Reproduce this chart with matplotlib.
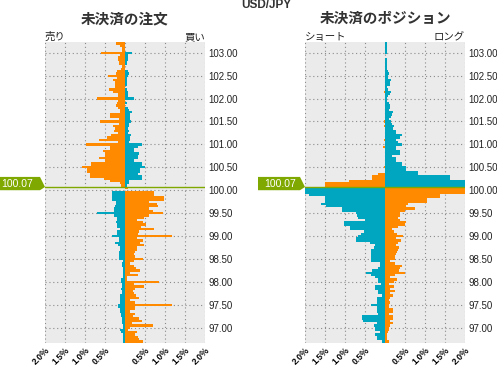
import numpy as np
import matplotlib.pyplot as plt
from matplotlib.patches import Polygon
from matplotlib.transforms import blended_transform_factory

plt.rcParams['font.family'] = ['Liberation Sans', 'Noto Sans CJK JP', 'DejaVu Sans']

ORANGE = "#ff8a00"
BLUE = "#00a6c0"
GREEN = "#7fa800"
BG = "#ebebeb"

symbol = "USD/JPY"
current_price = 100.07
bin_step = 0.05
top_price = 103.20

# open orders, % per price level (left side / right side of the zero line)
order_left = [
    0.22, 0.12, 0.08, 0.08, 0.60, 0.12, 0.17, 0.17, 0.15, 0.14,   # 103.20 - 102.75
    0.08, 0.10, 0.19, 0.22, 0.42, 0.19, 0.30, 0.24, 0.24, 0.25,   # 102.70 - 102.25
    0.40, 0.30, 0.18, 0.18, 0.70, 0.18, 0.21, 0.22, 0.18, 0.12,   # 102.20 - 101.75
    0.12, 0.37, 0.37, 0.14, 0.62, 0.14, 0.29, 0.24, 0.27, 0.18,   # 101.70 - 101.25
    0.35, 0.44, 0.65, 0.17, 0.98, 0.37, 0.37, 0.55, 0.50, 0.50,   # 101.20 - 100.75
    0.65, 0.50, 0.85, 0.85, 1.07, 0.95, 0.95, 0.87, 0.87, 0.52,   # 100.70 - 100.25
    0.37, 0.12, 0.10,                                             # 100.20 - 100.10
    0.00, 0.00, 0.33, 0.33, 0.33, 0.33, 0.22, 0.22, 0.25, 0.27,   # 100.05 - 99.60
    0.27, 0.70, 0.27, 0.21, 0.21, 0.22, 0.19, 0.19, 0.12, 0.20,   # 99.55 - 99.10
    0.20, 0.33, 0.15, 0.15, 0.25, 0.17, 0.12, 0.12, 0.15, 0.15,   # 99.05 - 98.60
    0.15, 0.15, 0.06, 0.08, 0.08, 0.06, 0.04, 0.04, 0.04, 0.04,   # 98.55 - 98.10
    0.10, 0.10, 0.08, 0.08, 0.10, 0.08, 0.08, 0.12, 0.12, 0.12,   # 98.05 - 97.60
    0.12, 0.17, 0.17, 0.12, 0.12, 0.10, 0.10, 0.08, 0.08, 0.08,   # 97.55 - 97.10
    0.06, 0.06, 0.12, 0.10, 0.06, 0.06, 0.06, 0.06, 0.06,         # 97.05 - 96.65
]
order_right = [
    0.00, 0.00, 0.00, 0.00, 0.17, 0.07, 0.07, 0.07, 0.06, 0.06,
    0.00, 0.00, 0.07, 0.10, 0.08, 0.06, 0.05, 0.05, 0.05, 0.00,
    0.05, 0.07, 0.07, 0.07, 0.22, 0.00, 0.04, 0.00, 0.07, 0.10,
    0.17, 0.12, 0.12, 0.12, 0.15, 0.10, 0.10, 0.08, 0.11, 0.08,
    0.15, 0.12, 0.12, 0.11, 0.42, 0.32, 0.22, 0.22, 0.35, 0.32,
    0.32, 0.22, 0.42, 0.42, 0.50, 0.37, 0.37, 0.32, 0.42, 0.42,
    0.10, 0.09, 0.06,
    0.07, 0.00, 0.72, 0.72, 0.97, 0.97, 0.60, 0.80, 0.82, 0.60,
    0.70, 0.95, 0.60, 0.48, 0.30, 0.45, 0.52, 0.40, 0.72, 0.35,
    0.32, 1.17, 0.30, 0.45, 0.38, 0.48, 0.30, 0.30, 0.25, 0.22,
    0.25, 0.45, 0.22, 0.12, 0.22, 0.27, 0.37, 0.12, 0.32, 0.06,
    0.05, 0.85, 0.22, 0.48, 0.25, 0.20, 0.22, 0.27, 0.35, 0.12,
    0.25, 1.17, 0.25, 0.25, 0.12, 0.25, 0.20, 0.35, 0.42, 0.17,
    0.70, 0.12, 0.08, 0.29, 0.25, 0.33, 0.36, 0.44, 0.44,
]

# open positions, % per price level
pos_left = [
    0.00, 0.00, 0.00, 0.00, 0.00, 0.00, 0.00, 0.00, 0.00, 0.00,
    0.00, 0.00, 0.00, 0.00, 0.00, 0.00, 0.00, 0.00, 0.00, 0.00,
    0.00, 0.03, 0.00, 0.00, 0.00, 0.00, 0.00, 0.00, 0.00, 0.00,
    0.00, 0.00, 0.00, 0.00, 0.03, 0.00, 0.03, 0.00, 0.00, 0.00,
    0.00, 0.00, 0.03, 0.00, 0.00, 0.05, 0.00, 0.00, 0.00, 0.00,
    0.00, 0.00, 0.00, 0.00, 0.03, 0.00, 0.00, 0.17, 0.32, 0.32,
    0.90, 1.50, 1.50,
    2.30, 2.30, 2.30, 1.90, 1.50, 1.50, 1.50, 1.60, 1.48, 1.07,
    1.07, 0.72, 0.70, 0.68, 0.50, 1.02, 1.02, 0.87, 0.87, 0.52,
    0.60, 0.68, 0.72, 0.72, 0.37, 0.25, 0.27, 0.35, 0.35, 0.35,
    0.35, 0.35, 0.35, 0.12, 0.12, 0.17, 0.32, 0.47, 0.35, 0.25,
    0.17, 0.17, 0.10, 0.25, 0.25, 0.17, 0.17, 0.07, 0.20, 0.20,
    0.20, 0.35, 0.20, 0.20, 0.20, 0.17, 0.57, 0.57, 0.56, 0.20,
    0.27, 0.25, 0.25, 0.12, 0.25, 0.20, 0.20, 0.08, 0.06,
]
pos_right = [
    0.05, 0.05, 0.05, 0.05, 0.05, 0.00, 0.00, 0.05, 0.05, 0.05,
    0.05, 0.05, 0.07, 0.09, 0.07, 0.07, 0.15, 0.12, 0.12, 0.05,
    0.07, 0.15, 0.12, 0.07, 0.05, 0.05, 0.10, 0.12, 0.12, 0.10,
    0.20, 0.17, 0.15, 0.10, 0.15, 0.17, 0.22, 0.20, 0.27, 0.27,
    0.42, 0.37, 0.27, 0.32, 0.42, 0.27, 0.27, 0.37, 0.37, 0.17,
    0.27, 0.27, 0.42, 0.42, 0.52, 0.52, 0.82, 0.82, 1.62, 1.62,
    2.30, 2.30, 2.30,
    2.30, 2.30, 2.30, 1.37, 1.37, 1.05, 1.05, 0.57, 0.52, 0.75,
    0.50, 0.37, 0.37, 0.33, 0.37, 0.52, 0.50, 0.33, 0.18, 0.22,
    0.30, 0.45, 0.27, 0.40, 0.33, 0.27, 0.35, 0.33, 0.30, 0.28,
    0.25, 0.25, 0.12, 0.25, 0.42, 0.37, 0.35, 0.50, 0.25, 0.12,
    0.30, 0.22, 0.10, 0.22, 0.12, 0.25, 0.12, 0.20, 0.12, 0.10,
    0.12, 0.10, 0.10, 0.20, 0.20, 0.10, 0.20, 0.20, 0.12, 0.19,
    0.12, 0.11, 0.10, 0.08, 0.06, 0.04, 0.06, 0.11, 0.08,
]

# price level of each row, top to bottom
prices = np.round(top_price - bin_step * np.arange(len(order_left)), 2)

x_ticks = [-2.0, -1.5, -1.0, -0.5, 0.0, 0.5, 1.0, 1.5, 2.0]
x_labels = ["2.0％", "1.5％", "1.0％", "0.5％", "", "0.5％", "1.0％", "1.5％", "2.0％"]
y_ticks = [97.0, 97.5, 98.0, 98.5, 99.0, 99.5, 100.0, 100.5, 101.0, 101.5, 102.0, 102.5, 103.0]

panels = [
    ("未決済の注文", "売り", "買い", order_left, order_right, 45),
    ("未決済のポジション", "ショート", "ロング", pos_left, pos_right, 305),
]

W, H = 497, 365
fig = plt.figure(figsize=(W / 100, H / 100), dpi=100)
fig.patch.set_facecolor("white")

above = prices > current_price
left_colors = np.where(above, ORANGE, BLUE)
right_colors = np.where(above, BLUE, ORANGE)

for title, lab_l, lab_r, vals_l, vals_r, x0 in panels:
    ax = fig.add_axes([x0 / W, 22 / H, 160 / W, 301 / H])
    ax.set_facecolor(BG)
    ax.barh(prices, -np.array(vals_l), height=bin_step, color=left_colors, linewidth=0)
    ax.barh(prices, vals_r, height=bin_step, color=right_colors, linewidth=0)
    ax.axhline(current_price, color=GREEN, lw=1.0, zorder=5)

    ax.set_xlim(-2.0, 2.0)
    ax.set_ylim(96.665, 103.235)
    ax.set_xticks(x_ticks)
    ax.set_xticklabels(x_labels, rotation=45, ha="right", va="top",
                       rotation_mode="anchor", fontsize=6.2, fontweight="bold",
                       family=["Liberation Sans", "Noto Sans CJK JP"])
    ax.set_yticks(y_ticks)
    ax.set_yticklabels(["%.2f" % v for v in y_ticks], fontsize=7, color="#222222")
    ax.yaxis.tick_right()
    ax.tick_params(length=0)
    ax.tick_params(axis="x", pad=1.5)
    ax.tick_params(axis="y", pad=2.5)
    ax.grid(True, color="#8a8a8a", linestyle=(0, (1, 2.5)), linewidth=0.8)
    ax.set_axisbelow(True)
    for s in ax.spines.values():
        s.set_visible(False)

    fig.text((x0 + 80) / W, 1 - 18 / H, title, ha="center", va="center",
             fontsize=10.5, fontweight="bold", color="#333333", family="Noto Sans CJK JP")
    fig.text(x0 / W, 1 - 40 / H, lab_l, ha="left", va="baseline", fontsize=7.5,
             color="#222222", family="Noto Sans CJK JP")
    fig.text((x0 + 160) / W, 1 - 40 / H, lab_r, ha="right", va="baseline", fontsize=7.5,
             color="#222222", family="Noto Sans CJK JP")

    # current price tag pointing at the panel
    tr = blended_transform_factory(fig.transFigure, ax.transData)
    bx0 = (x0 - 47) / W if x0 > 100 else -0.01
    bx1 = (x0 - 5) / W
    tip = x0 / W
    top, bot = current_price + 0.22, current_price - 0.07
    tag = Polygon([(bx0, top), (bx1, top), (tip, current_price),
                   (bx1, bot), (bx0, bot)],
                  closed=True, transform=tr, facecolor=GREEN, edgecolor="none", clip_on=False)
    fig.patches.append(tag)
    tx = (x0 - 25) / W if x0 > 100 else 17 / W
    fig.text(tx, current_price + 0.075, "%.2f" % current_price, transform=tr, ha="center",
             va="center", fontsize=7.5, color="white")

fig.text(266 / W, 1 - 8 / H, symbol, ha="center", va="baseline", fontsize=8.5,
         fontweight="bold", color="#333333")

fig.savefig("out.png", dpi=100)
